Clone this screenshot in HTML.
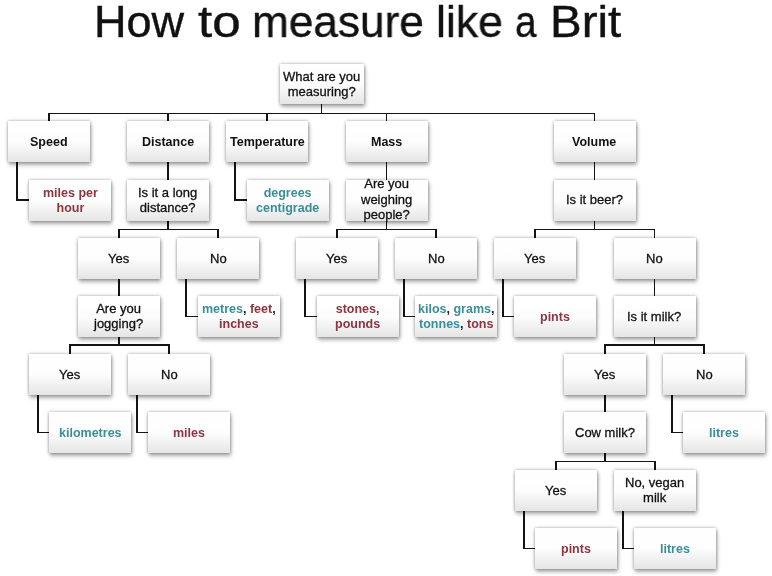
<!DOCTYPE html>
<html><head><meta charset="utf-8"><style>
html,body{margin:0;padding:0;background:#fff;}
.b>div{will-change:transform;}
body{width:772px;height:576px;position:relative;overflow:hidden;font-family:"Liberation Sans",sans-serif;}
.title{position:absolute;will-change:transform;-webkit-text-stroke:0.4px #111;top:-4px;font-size:45px;line-height:52px;color:#111;white-space:nowrap;transform-origin:0 0;}
.l{position:absolute;background:#141414;}
.b{position:absolute;box-sizing:border-box;background:linear-gradient(#ffffff 0%,#fdfdfd 50%,#e5e5e5 100%);
box-shadow:0 0 3px rgba(0,0,0,.36),1px 2.5px 4px rgba(0,0,0,.30);display:flex;align-items:center;justify-content:center;text-align:center;
color:#111;font-size:13px;line-height:15px;white-space:nowrap;-webkit-text-stroke:0.3px #111;padding-bottom:1px;}
.bd{padding-bottom:0;padding-top:1px;font-weight:bold;font-size:12.5px;color:#111;-webkit-text-stroke:0;}
.red{padding-bottom:0;padding-top:1px;font-weight:bold;font-size:12.5px;color:#8c3540;-webkit-text-stroke:0;}
.teal{padding-bottom:0;padding-top:1px;font-weight:bold;font-size:12.5px;color:#3a8e97;-webkit-text-stroke:0;}
.bk{padding-bottom:0;padding-top:1px;font-weight:bold;font-size:12.5px;color:#222;-webkit-text-stroke:0;}
.r3{line-height:15.5px;padding-bottom:1.5px;padding-top:0;}
.t{color:#3a8e97;}
.d{color:#8c3540;}
</style></head><body>
<div class="title" style="left:94.30px;transform:scaleX(1.0012)">How</div>
<div class="title" style="left:197.56px;transform:scaleX(1.1371)">to</div>
<div class="title" style="left:252.25px;transform:scaleX(0.9818)">measure</div>
<div class="title" style="left:435.83px;transform:scaleX(0.9905)">like</div>
<div class="title" style="left:514.9px;transform:scaleX(0.86)">a</div>
<div class="title" style="left:549.78px;transform:scaleX(1.0556)">Brit</div>
<div class="l" style="left:321.1px;top:104px;width:1.3px;height:9.5px"></div>
<div class="l" style="left:48.35px;top:112.85px;width:546.8px;height:1.3px"></div>
<div class="l" style="left:48.35px;top:112.85px;width:1.3px;height:8.150000000000006px"></div>
<div class="l" style="left:167.35px;top:112.85px;width:1.3px;height:8.150000000000006px"></div>
<div class="l" style="left:266.35px;top:112.85px;width:1.3px;height:8.150000000000006px"></div>
<div class="l" style="left:385.85px;top:112.85px;width:1.3px;height:8.150000000000006px"></div>
<div class="l" style="left:593.85px;top:112.85px;width:1.3px;height:8.150000000000006px"></div>
<div class="l" style="left:16.35px;top:162px;width:1.3px;height:38.650000000000006px"></div>
<div class="l" style="left:16.35px;top:199.35px;width:12.649999999999999px;height:1.3px"></div>
<div class="l" style="left:167.35px;top:162px;width:1.3px;height:17.5px"></div>
<div class="l" style="left:234.35px;top:162px;width:1.3px;height:38.650000000000006px"></div>
<div class="l" style="left:234.35px;top:199.35px;width:12.650000000000006px;height:1.3px"></div>
<div class="l" style="left:385.85px;top:162px;width:1.3px;height:17.5px"></div>
<div class="l" style="left:593.85px;top:162px;width:1.3px;height:17.5px"></div>
<div class="l" style="left:167.35px;top:220.5px;width:1.3px;height:9.0px"></div>
<div class="l" style="left:118.35px;top:228.85px;width:100.30000000000001px;height:1.3px"></div>
<div class="l" style="left:118.35px;top:228.85px;width:1.3px;height:9.150000000000006px"></div>
<div class="l" style="left:217.35px;top:228.85px;width:1.3px;height:9.150000000000006px"></div>
<div class="l" style="left:385.85px;top:220.5px;width:1.3px;height:9.0px"></div>
<div class="l" style="left:336.35px;top:228.85px;width:100.29999999999995px;height:1.3px"></div>
<div class="l" style="left:336.35px;top:228.85px;width:1.3px;height:9.150000000000006px"></div>
<div class="l" style="left:435.35px;top:228.85px;width:1.3px;height:9.150000000000006px"></div>
<div class="l" style="left:593.85px;top:220.5px;width:1.3px;height:9.0px"></div>
<div class="l" style="left:534.35px;top:228.85px;width:120.79999999999995px;height:1.3px"></div>
<div class="l" style="left:534.35px;top:228.85px;width:1.3px;height:9.150000000000006px"></div>
<div class="l" style="left:653.85px;top:228.85px;width:1.3px;height:9.150000000000006px"></div>
<div class="l" style="left:118.35px;top:279px;width:1.3px;height:17px"></div>
<div class="l" style="left:185.35px;top:279px;width:1.3px;height:38.14999999999998px"></div>
<div class="l" style="left:185.35px;top:315.85px;width:12.650000000000006px;height:1.3px"></div>
<div class="l" style="left:304.35px;top:279px;width:1.3px;height:38.14999999999998px"></div>
<div class="l" style="left:304.35px;top:315.85px;width:12.649999999999977px;height:1.3px"></div>
<div class="l" style="left:403.35px;top:279px;width:1.3px;height:38.14999999999998px"></div>
<div class="l" style="left:403.35px;top:315.85px;width:11.649999999999977px;height:1.3px"></div>
<div class="l" style="left:502.35px;top:279px;width:1.3px;height:38.14999999999998px"></div>
<div class="l" style="left:502.35px;top:315.85px;width:11.649999999999977px;height:1.3px"></div>
<div class="l" style="left:653.85px;top:279px;width:1.3px;height:17px"></div>
<div class="l" style="left:118.35px;top:337px;width:1.3px;height:8px"></div>
<div class="l" style="left:69.35px;top:344.35px;width:100.30000000000001px;height:1.3px"></div>
<div class="l" style="left:69.35px;top:344.35px;width:1.3px;height:9.649999999999977px"></div>
<div class="l" style="left:168.35px;top:344.35px;width:1.3px;height:9.649999999999977px"></div>
<div class="l" style="left:653.85px;top:337px;width:1.3px;height:8px"></div>
<div class="l" style="left:604.35px;top:344.35px;width:100.29999999999995px;height:1.3px"></div>
<div class="l" style="left:604.35px;top:344.35px;width:1.3px;height:9.649999999999977px"></div>
<div class="l" style="left:703.35px;top:344.35px;width:1.3px;height:9.649999999999977px"></div>
<div class="l" style="left:37.35px;top:395px;width:1.3px;height:38.14999999999998px"></div>
<div class="l" style="left:37.35px;top:431.85px;width:11.649999999999999px;height:1.3px"></div>
<div class="l" style="left:136.35px;top:395px;width:1.3px;height:38.14999999999998px"></div>
<div class="l" style="left:136.35px;top:431.85px;width:11.650000000000006px;height:1.3px"></div>
<div class="l" style="left:604.35px;top:395px;width:1.3px;height:17px"></div>
<div class="l" style="left:671.35px;top:395px;width:1.3px;height:38.14999999999998px"></div>
<div class="l" style="left:671.35px;top:431.85px;width:11.649999999999977px;height:1.3px"></div>
<div class="l" style="left:604.35px;top:453px;width:1.3px;height:8.5px"></div>
<div class="l" style="left:555.35px;top:460.85px;width:100.29999999999995px;height:1.3px"></div>
<div class="l" style="left:555.35px;top:460.85px;width:1.3px;height:9.149999999999977px"></div>
<div class="l" style="left:654.35px;top:460.85px;width:1.3px;height:9.149999999999977px"></div>
<div class="l" style="left:523.35px;top:511px;width:1.3px;height:38.14999999999998px"></div>
<div class="l" style="left:523.35px;top:547.85px;width:11.649999999999977px;height:1.3px"></div>
<div class="l" style="left:622.35px;top:511px;width:1.3px;height:38.14999999999998px"></div>
<div class="l" style="left:622.35px;top:547.85px;width:11.649999999999977px;height:1.3px"></div>
<div class="b r" style="left:280px;top:64px;width:83.5px;height:40px"><div>What are you<br>measuring?</div></div>
<div class="b bd" style="left:8px;top:121px;width:82px;height:41px"><div>Speed</div></div>
<div class="b bd" style="left:127px;top:121px;width:82px;height:41px"><div>Distance</div></div>
<div class="b bd" style="left:226px;top:121px;width:82px;height:41px"><div>Temperature</div></div>
<div class="b bd" style="left:345.5px;top:121px;width:82px;height:41px"><div>Mass</div></div>
<div class="b bd" style="left:553.5px;top:121px;width:82px;height:41px"><div>Volume</div></div>
<div class="b red" style="left:29px;top:179.5px;width:82px;height:41px"><div>miles per<br>hour</div></div>
<div class="b r" style="left:127px;top:179.5px;width:82px;height:41px"><div>Is it a long<br>distance?</div></div>
<div class="b teal" style="left:247px;top:179.5px;width:82px;height:41px"><div>degrees<br>centigrade</div></div>
<div class="b r3" style="left:345.5px;top:179.5px;width:82px;height:41px"><div>Are you<br>weighing<br>people?</div></div>
<div class="b r" style="left:553.5px;top:179.5px;width:82px;height:41px"><div>Is it beer?</div></div>
<div class="b r" style="left:78px;top:238px;width:82px;height:41px"><div>Yes</div></div>
<div class="b r" style="left:177px;top:238px;width:82px;height:41px"><div>No</div></div>
<div class="b r" style="left:296px;top:238px;width:82px;height:41px"><div>Yes</div></div>
<div class="b r" style="left:395px;top:238px;width:82px;height:41px"><div>No</div></div>
<div class="b r" style="left:494px;top:238px;width:82px;height:41px"><div>Yes</div></div>
<div class="b r" style="left:613.5px;top:238px;width:82px;height:41px"><div>No</div></div>
<div class="b r" style="left:78px;top:296px;width:82px;height:41px"><div>Are you<br>jogging?</div></div>
<div class="b bk" style="left:198px;top:296px;width:82px;height:41px"><div><span class="t">metres</span>, <span class="d">feet</span>,<br><span class="d">inches</span></div></div>
<div class="b red" style="left:317px;top:296px;width:82px;height:41px"><div>stones,<br>pounds</div></div>
<div class="b bk" style="left:415px;top:296px;width:82px;height:41px"><div><span class="t">kilos</span>, <span class="t">grams</span>,<br><span class="t">tonnes</span>, <span class="d">tons</span></div></div>
<div class="b red" style="left:514px;top:296px;width:82px;height:41px"><div>pints</div></div>
<div class="b r" style="left:613.5px;top:296px;width:82px;height:41px"><div>Is it milk?</div></div>
<div class="b r" style="left:29px;top:354px;width:82px;height:41px"><div>Yes</div></div>
<div class="b r" style="left:128px;top:354px;width:82px;height:41px"><div>No</div></div>
<div class="b r" style="left:564px;top:354px;width:82px;height:41px"><div>Yes</div></div>
<div class="b r" style="left:663px;top:354px;width:82px;height:41px"><div>No</div></div>
<div class="b teal" style="left:49px;top:412px;width:82px;height:41px"><div>kilometres</div></div>
<div class="b red" style="left:148px;top:412px;width:82px;height:41px"><div>miles</div></div>
<div class="b r" style="left:564px;top:412px;width:82px;height:41px"><div>Cow milk?</div></div>
<div class="b teal" style="left:683px;top:412px;width:82px;height:41px"><div>litres</div></div>
<div class="b r" style="left:515px;top:470px;width:82px;height:41px"><div>Yes</div></div>
<div class="b r" style="left:614px;top:470px;width:82px;height:41px"><div>No, vegan<br>milk</div></div>
<div class="b red" style="left:535px;top:528px;width:82px;height:41px"><div>pints</div></div>
<div class="b teal" style="left:634px;top:528px;width:82px;height:41px"><div>litres</div></div>
</body></html>
